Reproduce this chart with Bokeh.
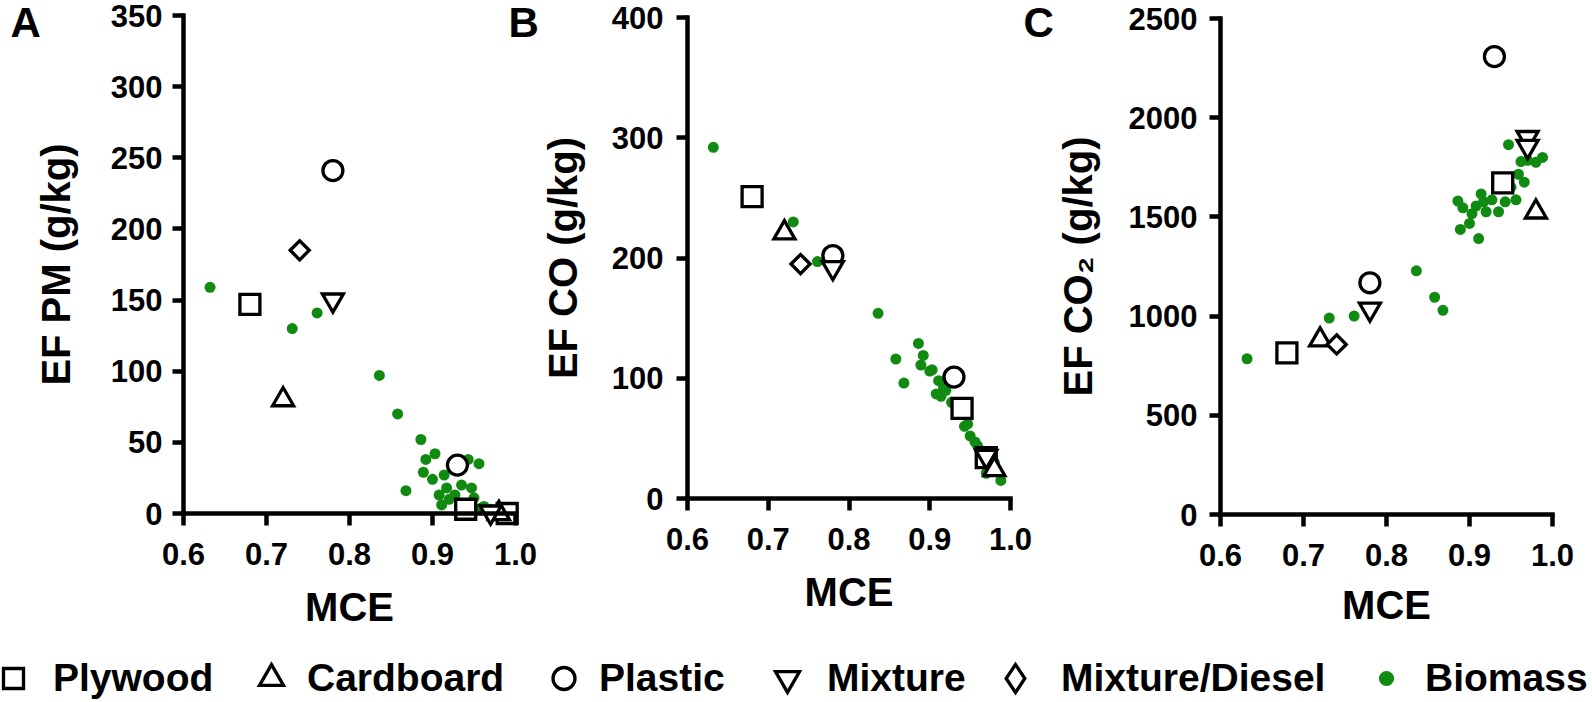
import math
from bokeh.plotting import figure
from bokeh.models import (Range1d, FixedTicker, Label, Legend, LegendItem, LinearAxis,
                          NumeralTickFormatter)
from bokeh.layouts import row, column
from bokeh.embed import file_html
from bokeh.resources import INLINE
from bokeh.core.properties import value

FONT = "Liberation Sans"
GREEN = "#118a11"
BLACK = "#000000"

# ---------------- data ----------------
mce_ticks = [0.6, 0.7, 0.8, 0.9, 1.0]
pm_ticks = [0, 50, 100, 150, 200, 250, 300, 350]
co_ticks = [0, 100, 200, 300, 400]
co2_ticks = [0, 500, 1000, 1500, 2000, 2500]

x_title = "MCE"
y_titles = ["EF PM (g/kg)", "EF CO (g/kg)", "EF CO\u2082 (g/kg)"]
panel_letters = ["A", "B", "C"]
series_names = ["Plywood", "Cardboard", "Plastic", "Mixture", "Mixture/Diesel", "Biomass"]

biomass_mce = [0.632, 0.731, 0.761, 0.836, 0.858, 0.868, 0.886, 0.889, 0.892, 0.900,
               0.903, 0.908, 0.911, 0.914, 0.917, 0.920, 0.927, 0.935, 0.943, 0.947,
               0.950, 0.956, 0.959, 0.962, 0.966, 0.970, 0.980, 0.988]
biomass_pm = [159, 130, 141, 97, 70, 16, 52, 29, 38, 24,
              42, 13, 6, 27, 18, 10, 13, 20, 38, 18,
              11, 35, 4, 5, 3, 3, 2, 1]
biomass_co = [292, 230, 197, 154, 116, 96, 129, 111, 119, 106,
              107, 87, 98, 85, 92, 90, 80, 70, 60, 62,
              52, 47, 44, 40, 38, 21, 30, 15]
biomass_co2 = [785, 990, 1000, 1228, 1095, 1029, 1580, 1437, 1546, 1467,
               1516, 1555, 1391, 1616, 1576, 1526, 1586, 1526, 1576, 1864,
               1650, 1586, 1715, 1779, 1675, 1785, 1775, 1800]

# Panel A: EF PM
plywood_mce_pm = [0.68, 0.94, 0.99]
plywood_pm = [147, 3, 0]
cardboard_mce_pm = [0.72, 0.98]
cardboard_pm = [80, 0]
plastic_mce_pm = [0.78, 0.93]
plastic_pm = [241, 34]
mixture_mce_pm = [0.78, 0.97]
mixture_pm = [150, 1]
diesel_mce_pm = [0.74]
diesel_pm = [185]

# Panel B: EF CO
plywood_mce_co = [0.68, 0.94, 0.97]
plywood_co = [251, 75, 34]
cardboard_mce_co = [0.72, 0.98]
cardboard_co = [221, 24]
plastic_mce_co = [0.78, 0.93]
plastic_co = [202, 101]
mixture_mce_co = [0.78, 0.97]
mixture_co = [192, 35]
diesel_mce_co = [0.74]
diesel_co = [195]

# Panel C: EF CO2
plywood_mce_co2 = [0.68, 0.94]
plywood_co2 = [815, 1671]
cardboard_mce_co2 = [0.72, 0.98]
cardboard_co2 = [880, 1525]
plastic_mce_co2 = [0.78, 0.93]
plastic_co2 = [1168, 2308]
mixture_mce_co2 = [0.78, 0.97, 0.97]
mixture_co2 = [1035, 1900, 1855]
diesel_mce_co2 = [0.74]
diesel_co2 = [857]

# ---------------- styles ----------------
MARKERS = {
    "Plywood": dict(marker="square", size=20, angle=0.0),
    "Cardboard": dict(marker="triangle", size=21, angle=0.0),
    "Plastic": dict(marker="circle", size=20, angle=0.0),
    "Mixture": dict(marker="inverted_triangle", size=21, angle=0.0),
    "Mixture/Diesel": dict(marker="square", size=13.5, angle=math.pi / 4),
}
LW = 3.3
PANEL_H = 648
LEG_H = 54


def add_text(p, text, x, y_mid, size, angle=0.0, align="left"):
    p.add_layout(Label(x=x, y=PANEL_H - y_mid, x_units="screen", y_units="screen",
                       text=text, angle=angle, text_font=FONT, text_font_size=size,
                       text_font_style="bold", text_color=BLACK,
                       text_align=align, text_baseline="middle"))


def style_axis(ax):
    ax.axis_line_width = 4.5
    ax.axis_line_color = BLACK
    ax.axis_line_cap = "square"
    ax.major_tick_line_width = 4.5
    ax.major_tick_line_color = BLACK
    ax.major_tick_in = 0
    ax.minor_tick_line_color = None
    ax.major_label_text_font = FONT
    ax.major_label_text_font_size = "31px"
    ax.major_label_text_font_style = "bold"
    ax.major_label_text_color = BLACK


def make_panel(fig_w, axis_x, x_ppu, y_top, y_zero, y_ticks, ylabel, ytitle_mid,
               xtitle_mid, series, bio_y, ytick_std, letters):
    y_max = y_ticks[-1]
    x_start = mce_ticks[0] - axis_x / x_ppu
    x_end = mce_ticks[0] + (fig_w - axis_x) / x_ppu
    y_ppu = (y_zero - y_top) / y_max
    y_end = y_max + y_top / y_ppu
    y_start = -(PANEL_H - y_zero) / y_ppu
    p = figure(frame_width=fig_w, frame_height=PANEL_H,
               x_range=Range1d(x_start, x_end), y_range=Range1d(y_start, y_end),
               min_border_left=0, min_border_right=0, min_border_top=0,
               min_border_bottom=0, x_axis_location=None, y_axis_location=None,
               output_backend="svg", toolbar_location=None,
               background_fill_color="white", border_fill_color="white",
               outline_line_color=None)
    p.grid.visible = False

    xa = LinearAxis(fixed_location=0, ticker=FixedTicker(ticks=mce_ticks),
                    bounds=(mce_ticks[0], mce_ticks[-1]),
                    formatter=NumeralTickFormatter(format="0.0"))
    style_axis(xa)
    xa.major_tick_out = 12
    xa.major_label_standoff = 17
    p.add_layout(xa, "below")

    ya = LinearAxis(fixed_location=mce_ticks[0], ticker=FixedTicker(ticks=y_ticks),
                    bounds=(0, y_max))
    style_axis(ya)
    ya.major_tick_out = 11
    ya.major_label_standoff = ytick_std
    p.add_layout(ya, "left")

    p.scatter(biomass_mce, bio_y, marker="circle", size=11,
              fill_color=GREEN, line_color=None)
    for name, (xs, ys) in series.items():
        m = MARKERS[name]
        p.scatter(xs, ys, marker=m["marker"], size=m["size"], angle=m["angle"],
                  fill_color="white", line_color=BLACK, line_width=LW,
                  line_join="miter")

    # axis titles (cap-centre positions)
    x_mid = axis_x + 0.2 * x_ppu
    add_text(p, x_title, x_mid, xtitle_mid, "40px", align="center")
    add_text(p, ylabel, ytitle_mid, (y_top + y_zero) / 2, "40px",
             angle=math.pi / 2, align="center")
    for text, lx, mid in letters:
        add_text(p, text, lx, mid, "42px")
    return p


# figure boundaries: A 0-538, B 538-1053, C 1053-1592
pA = make_panel(538, 183, 830.0, 15.0, 513.0, pm_ticks, y_titles[0], 55, 606,
                {"Plywood": (plywood_mce_pm, plywood_pm),
                 "Cardboard": (cardboard_mce_pm, cardboard_pm),
                 "Plastic": (plastic_mce_pm, plastic_pm),
                 "Mixture": (mixture_mce_pm, mixture_pm),
                 "Mixture/Diesel": (diesel_mce_pm, diesel_pm)},
                biomass_pm, 10, [(panel_letters[0], 10, 22), (panel_letters[1], 508, 22)])

pB = make_panel(515, 687 - 538, 807.5, 17.0, 498.0, co_ticks, y_titles[1], 24, 591,
                {"Plywood": (plywood_mce_co, plywood_co),
                 "Cardboard": (cardboard_mce_co, cardboard_co),
                 "Plastic": (plastic_mce_co, plastic_co),
                 "Mixture": (mixture_mce_co, mixture_co),
                 "Mixture/Diesel": (diesel_mce_co, diesel_co)},
                biomass_co, 13, [(panel_letters[2], 1023 - 538, 22)])

pC = make_panel(539, 1220 - 1053, 830.0, 18.0, 514.0, co2_ticks, y_titles[2], 24, 604,
                {"Plywood": (plywood_mce_co2, plywood_co2),
                 "Cardboard": (cardboard_mce_co2, cardboard_co2),
                 "Plastic": (plastic_mce_co2, plastic_co2),
                 "Mixture": (mixture_mce_co2, mixture_co2),
                 "Mixture/Diesel": (diesel_mce_co2, diesel_co2)},
                biomass_co2, 12, [])

# ---------------- legend strip ----------------
leg = figure(frame_width=1592, frame_height=LEG_H, x_range=Range1d(0, 1), y_range=Range1d(0, 1),
             min_border_left=0, min_border_right=0, min_border_top=0, min_border_bottom=0,
             x_axis_location=None, y_axis_location=None, output_backend="svg",
             toolbar_location=None, outline_line_color=None,
             background_fill_color="white", border_fill_color="white")
leg.grid.visible = False

# (name, marker, legend marker size, marker centre px, text start px)
legend_specs = [
    (series_names[0], "square", 20, 13, 53),
    (series_names[1], "triangle", 24, 271, 307),
    (series_names[2], "circle", 22, 563, 599),
    (series_names[3], "inverted_triangle", 24, 787, 827),
    (series_names[4], "diamond", 28, 1015, 1061),
    (series_names[5], "circle", 15, 1386, 1425),
]
GLYPH_H = 70
TEXT_MID = 30
for name, mk, sz, cx, tx in legend_specs:
    if name == "Biomass":
        r = leg.scatter([math.nan], [math.nan], marker=mk, size=sz,
                        fill_color=GREEN, line_color=None)
    else:
        r = leg.scatter([math.nan], [math.nan], marker=mk, size=sz,
                        fill_color="white", line_color=BLACK, line_width=LW,
                        line_join="miter")
    gw = int(round(sz / 0.4))
    lg = Legend(items=[LegendItem(label=value(name), renderers=[r])],
                location=(int(round(cx - gw / 2)), int(LEG_H - TEXT_MID - GLYPH_H // 2)),
                orientation="horizontal", glyph_width=gw, glyph_height=GLYPH_H,
                label_standoff=int(round(tx - cx - gw / 2)), padding=0, margin=0, spacing=0,
                border_line_color=None, background_fill_alpha=0,
                label_text_font=FONT, label_text_font_size="39px",
                label_text_font_style="bold", label_text_color=BLACK,
                label_text_baseline="middle")
    leg.add_layout(lg)

layout = column(row(pA, pB, pC), leg)

open("out.html", "w").write(file_html(layout, INLINE, title="EF vs MCE"))
